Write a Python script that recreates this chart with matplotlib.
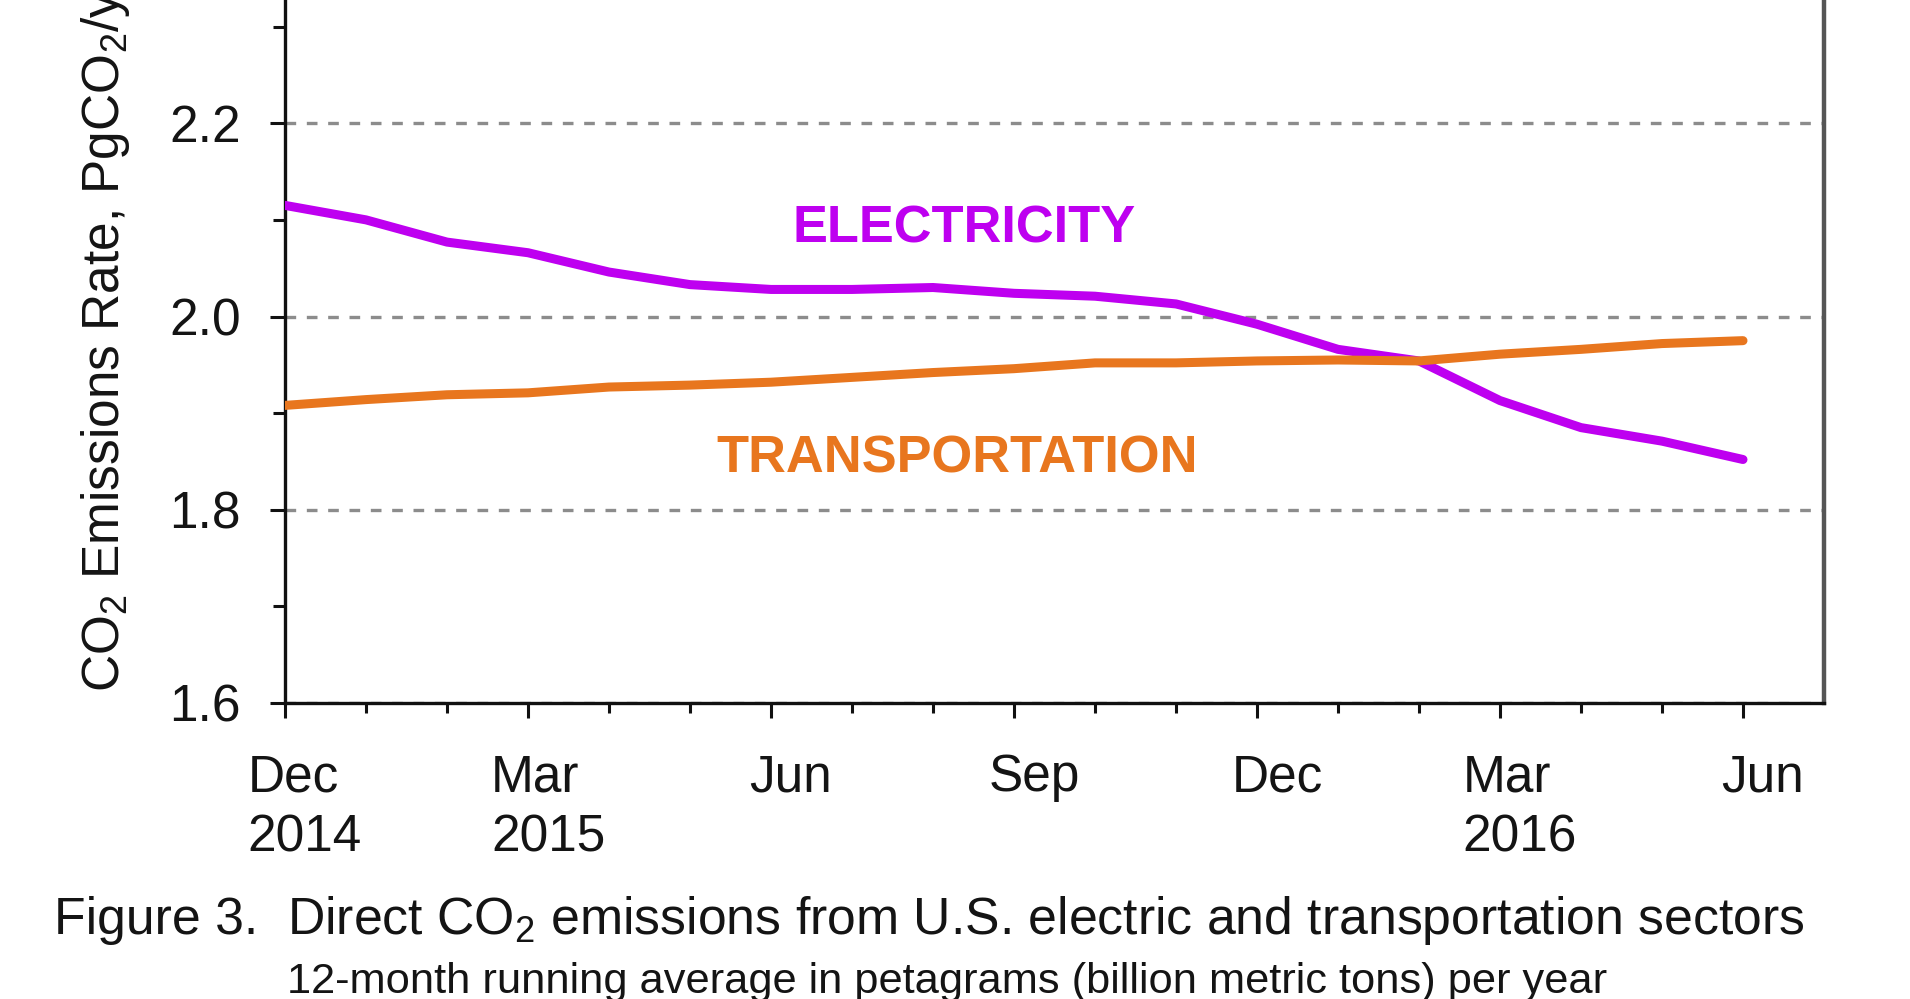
import matplotlib.pyplot as plt
import matplotlib.transforms as mtransforms
from matplotlib.ticker import FixedLocator

plt.rcParams['font.family'] = ['Liberation Sans', 'DejaVu Sans']
plt.rcParams['mathtext.fontset'] = 'custom'
plt.rcParams['mathtext.rm'] = 'Liberation Sans'

# months counted from Dec 2014 (0) to Jun 2016 (18)
months = list(range(19))
electricity = [2.115, 2.100, 2.077, 2.066, 2.046, 2.033, 2.028, 2.028, 2.030, 2.024,
               2.021, 2.013, 1.992, 1.966, 1.954, 1.913, 1.885, 1.871, 1.852]
transportation = [1.908, 1.914, 1.919, 1.921, 1.927, 1.929, 1.932, 1.937, 1.942, 1.946,
                  1.952, 1.952, 1.954, 1.955, 1.954, 1.961, 1.966, 1.972, 1.975]

tick_months = [0, 3, 6, 9, 12, 15, 18]
tick_labels = ["Dec\n2014", "Mar\n2015", "Jun", "Sep", "Dec", "Mar\n2016", "Jun"]
y_ticks = [1.6, 1.8, 2.0, 2.2]
y_minor = [1.7, 1.9, 2.1, 2.3]
y_tick_labels = ["1.6", "1.8", "2.0", "2.2"]

purple = '#BE00F0'
orange = '#E8761E'
text_color = '#141414'

fig = plt.figure(figsize=(19.1, 9.99), dpi=100)
# axes top runs past the figure edge, like the cropped original
ax = fig.add_axes([285 / 1910, 296 / 999, 1539 / 1910, 773 / 999])

ax.plot(months, electricity, color=purple, linewidth=6.5, solid_capstyle='round', zorder=3)
ax.plot(months, transportation, color=orange, linewidth=6.5, solid_capstyle='round', zorder=3)

ax.set_xlim(0, 19)
ax.set_ylim(1.6, 2.4)

ax.grid(axis='y', color='#8c8c8c', linestyle=(0, (3.2, 3.2)), linewidth=2.4)

ax.xaxis.set_major_locator(FixedLocator(tick_months))
ax.xaxis.set_minor_locator(FixedLocator(months))
ax.set_xticklabels(tick_labels, fontsize=37, color=text_color, linespacing=1.3,
                   multialignment='left')
ax.tick_params(axis='x', which='major', length=11, width=2.2, pad=25, color='#111111')
ax.tick_params(axis='x', which='minor', length=7.5, width=2.2, color='#111111')

offset = mtransforms.ScaledTranslation(0.2, 0, fig.dpi_scale_trans)
for lab in ax.get_xticklabels():
    lab.set_transform(lab.get_transform() + offset)

ax.yaxis.set_major_locator(FixedLocator(y_ticks))
ax.yaxis.set_minor_locator(FixedLocator(y_minor))
ax.set_yticklabels(y_tick_labels, fontsize=37, color=text_color)
ax.tick_params(axis='y', which='major', length=11, width=2.2, pad=21, color='#111111')
ax.tick_params(axis='y', which='minor', length=9, width=2.2, color='#111111')

for side in ['left', 'bottom']:
    ax.spines[side].set_linewidth(2.4)
    ax.spines[side].set_color('#111111')
ax.spines['right'].set_linewidth(3.2)
ax.spines['right'].set_color('#555555')
ax.spines['top'].set_visible(False)

ax.text(8.39, 2.091, "ELECTRICITY", ha='center', va='center', fontsize=37.7,
        fontweight='bold', color=purple)
ax.text(8.3, 1.853, "TRANSPORTATION", ha='center', va='center', fontsize=37.7,
        fontweight='bold', color=orange)

fig.text(106 / 1910, 1 - 692 / 999, r"CO$_2$ Emissions Rate, PgCO$_2$/yr", rotation=90,
         ha='center', va='bottom', fontsize=37, color=text_color)

fig.text(54 / 1910, 0.065, "Figure 3.", ha='left', va='baseline', fontsize=37.3,
         color=text_color)
fig.text(287 / 1910, 0.065, r"Direct CO$_2$ emissions from U.S. electric and transportation sectors",
         ha='left', va='baseline', fontsize=37.3, color=text_color)
fig.text(287 / 1910, 0.006, "12-month running average in petagrams (billion metric tons) per year",
         ha='left', va='baseline', fontsize=31.2, color=text_color)

fig.savefig('out.png', dpi=100, facecolor='white')
